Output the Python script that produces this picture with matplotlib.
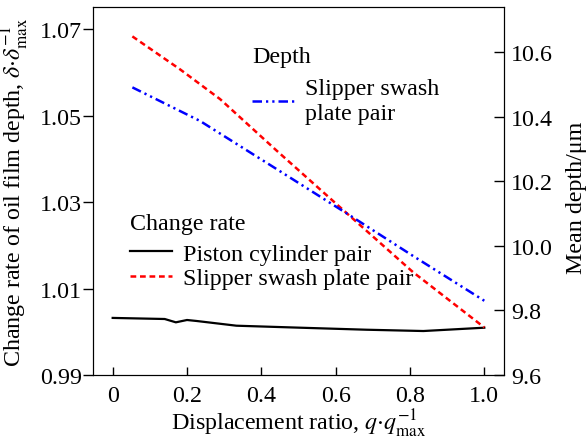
import numpy as np
import matplotlib
matplotlib.use("Agg")
import matplotlib.pyplot as plt

plt.rcParams['font.family'] = ['Liberation Serif', 'DejaVu Serif']
plt.rcParams['mathtext.fontset'] = 'stix'
plt.rcParams['font.size'] = 17.3

# change rate of oil film depth (left axis)
piston_x = [0.0, 0.14, 0.17, 0.20, 0.226, 0.333, 0.504, 0.683, 0.836, 1.0]
piston_rate = [1.0032, 1.00295, 1.00218, 1.00272, 1.00249, 1.0014, 1.00094, 1.00047, 1.00017, 1.00094]

slipper_x = [0.053, 0.181, 0.289, 0.441, 0.647, 0.808, 1.0]
slipper_rate = [1.0683, 1.0607, 1.0538, 1.0419, 1.0261, 1.0138, 1.0010]

# mean depth of slipper swash plate pair (right axis)
depth_x = [0.053, 0.235, 0.441, 0.647, 0.808, 1.0]
depth_um = [10.491, 10.387, 10.238, 10.088, 9.969, 9.830]

xticks = [0, 0.2, 0.4, 0.6, 0.8, 1.0]
xtick_labels = ["0", "0.2", "0.4", "0.6", "0.8", "1.0"]
left_ticks = [0.99, 1.01, 1.03, 1.05, 1.07]
right_ticks = [9.6, 9.8, 10.0, 10.2, 10.4, 10.6]

fig = plt.figure(figsize=(5.87, 4.39), dpi=100)
ax = fig.add_axes([0.1584, 0.1435, 0.7002, 0.8383])
ax2 = ax.twinx()

l1, = ax.plot(piston_x, piston_rate, color='black', lw=1.6,
              label='Piston cylinder pair')
l2, = ax.plot(slipper_x, slipper_rate, color='red', lw=1.8,
              linestyle=(0, (2.3, 1.5)), label='Slipper swash plate pair')
l3, = ax2.plot(depth_x, depth_um, color='blue', lw=1.8,
               linestyle=(0, (3.8, 1.6, 0.9, 1.6, 0.9, 1.6)),
               label='Slipper swash\nplate pair')

ax.set_xlim(-0.053, 1.053)
ax.set_ylim(0.99, 1.0751)
ax2.set_ylim(9.6, 10.74)

ax.set_xticks(xticks)
ax.set_xticklabels(xtick_labels)
ax.set_yticks(left_ticks)
ax.set_yticklabels(["%.2f" % v for v in left_ticks])
ax2.set_yticks(right_ticks)
ax2.set_yticklabels(["%.1f" % v for v in right_ticks])

ax.tick_params(axis='x', direction='in', length=6, width=1, pad=7, top=False)
ax.tick_params(axis='y', direction='out', length=7, width=1, pad=1)
ax2.tick_params(axis='y', direction='in', length=7, width=1, pad=5)

ax.set_xlabel(r"Displacement ratio, $q{\cdot}q_{\max}^{-1}$", labelpad=1)
ax.set_ylabel(r"Change rate of oil film depth, $\delta{\cdot}\delta_{\max}^{-1}$")
ax.yaxis.set_label_coords(-0.150, 0.5)
ax2.set_ylabel("Mean depth/μm")
ax2.yaxis.set_label_coords(1.152, 0.485)

# legend groups with their own headings
ax2.text(0.387, 0.866, "Depth", transform=ax2.transAxes, ha='left', va='center')
leg1 = ax2.legend(handles=[l3], loc='upper left',
                  bbox_to_anchor=(0.387, 0.808), bbox_transform=ax2.transAxes,
                  frameon=False, handlelength=1.75, handletextpad=0.46,
                  borderaxespad=0, borderpad=0, labelspacing=0.1)
leg1._legend_box.align = "left"
for t in leg1.get_texts():
    t.set_linespacing(1.3)
ax2.add_artist(leg1)

ax2.text(0.090, 0.413, "Change rate", transform=ax2.transAxes, ha='left', va='center')
leg2 = ax2.legend(handles=[l1, l2], loc='upper left',
                  bbox_to_anchor=(0.090, 0.3587), bbox_transform=ax2.transAxes,
                  frameon=False, handlelength=1.75, handletextpad=0.46,
                  borderaxespad=0, borderpad=0, labelspacing=0.1)
leg2._legend_box.align = "left"

fig.savefig("out.png", dpi=100)
